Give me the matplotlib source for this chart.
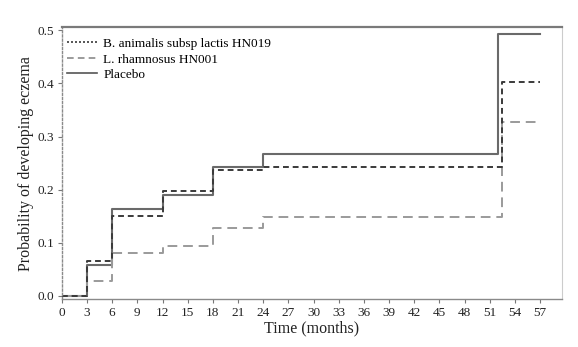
import matplotlib
matplotlib.use("Agg")
import matplotlib.pyplot as plt
from matplotlib.lines import Line2D

plt.rcParams['font.family'] = ['Liberation Serif', 'DejaVu Serif']

# Kaplan-Meier style cumulative probabilities (step after each time point)
times_hn019 = [0, 3, 6, 12, 18, 24, 52.5, 57]
prob_hn019 = [0.0, 0.066, 0.151, 0.197, 0.237, 0.243, 0.403, 0.403]

times_hn001 = [0, 3, 6, 12, 18, 24, 52.5, 57]
prob_hn001 = [0.0, 0.028, 0.081, 0.094, 0.127, 0.148, 0.328, 0.328]

times_placebo = [0, 3, 6, 12, 18, 24, 52, 57]
prob_placebo = [0.0, 0.059, 0.163, 0.190, 0.243, 0.268, 0.493, 0.493]

labels = ["B. animalis subsp lactis HN019", "L. rhamnosus HN001", "Placebo"]
x_ticks = list(range(0, 58, 3))
y_ticks = [0.0, 0.1, 0.2, 0.3, 0.4, 0.5]

fig = plt.figure(figsize=(5.78, 3.47), dpi=100)
ax = fig.add_axes([0.107, 0.138, 0.865, 0.784])

ax.step(times_placebo, prob_placebo, where='post', color='#6a6a6a', lw=1.5, ls='-')
ax.step(times_hn001, prob_hn001, where='post', color='#9a9a9a', lw=1.4, ls=(0, (5, 3)))
ax.step(times_hn019, prob_hn019, where='post', color='#3a3a3a', lw=1.4, ls=(0, (3, 2)))

ax.set_xlim(0, 59.6)
ax.set_ylim(-0.006, 0.506)
ax.set_xticks(x_ticks)
ax.set_yticks(y_ticks)
ax.set_yticklabels([f"{v:.1f}" for v in y_ticks])
ax.tick_params(axis='both', labelsize=9.5, colors='#222222', length=3, width=0.8, pad=2.5)
ax.tick_params(axis='both', color='#777777')

ax.set_xlabel("Time (months)", fontsize=11.5, color='#222222', labelpad=1)
ax.set_ylabel("Probability of developing eczema", fontsize=11.5, color='#222222')
ax.yaxis.set_label_coords(-0.056, 0.5)

ax.spines['top'].set_color('#7a7a7a')
ax.spines['top'].set_linewidth(1.6)
ax.spines['right'].set_color('#cccccc')
ax.spines['right'].set_linewidth(0.8)
ax.spines['bottom'].set_color('#8a8a8a')
ax.spines['bottom'].set_linewidth(1.0)
ax.spines['left'].set_color('#8a8a8a')
ax.spines['left'].set_linewidth(1.0)
ax.spines['left'].set_linestyle((0, (1.5, 1.5)))

handles = [
    Line2D([], [], color='#3a3a3a', lw=1.2, ls=(0, (1.2, 1.2))),
    Line2D([], [], color='#8a8a8a', lw=1.2, ls=(0, (4, 2.5))),
    Line2D([], [], color='#555555', lw=1.2, ls='-'),
]
ax.legend(handles, labels, loc='upper left', frameon=False, fontsize=9.5,
          handlelength=2.3, handletextpad=0.45, labelspacing=0.25,
          borderaxespad=0.0, bbox_to_anchor=(0.0, 0.98))

fig.savefig("out.png", dpi=100, facecolor='white')
